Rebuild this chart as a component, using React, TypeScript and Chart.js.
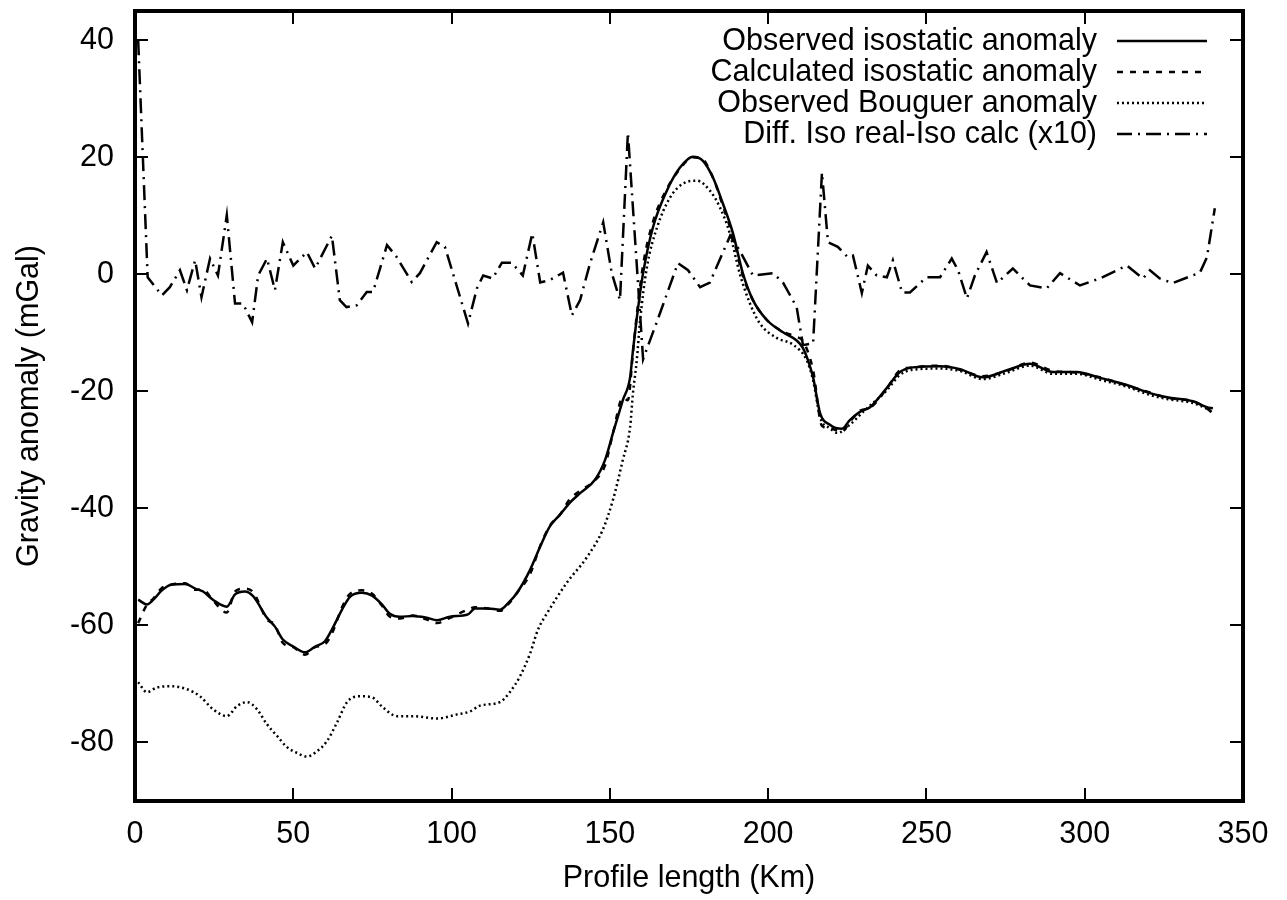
import { useEffect, useRef } from "react";
import { Chart, registerables } from "chart.js";

Chart.register(...registerables);

const FONT = '"Liberation Sans", Arial, Helvetica, sans-serif';
const FONT_SIZE = 30.5;

const xTickValues = [0, 50, 100, 150, 200, 250, 300, 350];
const yTickValues = [-80, -60, -40, -20, 0, 20, 40];

const seriesLabels = [
  "Observed isostatic anomaly",
  "Calculated isostatic anomaly",
  "Observed Bouguer anomaly",
  "Diff. Iso real-Iso calc (x10)",
];

const obsX = [1, 3.8, 5.8, 8.5, 11.7, 15.8, 19, 21.5, 24.6, 29, 31.6, 34.7, 37.3, 41.7, 44.2, 46.7, 50, 53.7, 56.9, 60, 62.2, 65.4, 67.9, 71.7, 74.9, 78, 80.5, 83.7, 87.8, 92.2, 95.4, 99.5, 105.2, 107.4, 111.5, 115.3, 118, 120.7, 124.8, 128, 131, 134.2, 137.4, 140.6, 145.3, 148.5, 151, 154.1, 156.4, 157.3, 158.5, 160.5, 163.6, 168, 172.1, 176.2, 179.4, 182.6, 185.7, 188.9, 192, 195.2, 199.6, 204.7, 209, 211, 212.6, 214.2, 216.4, 219.5, 223.3, 225.8, 229, 232.2, 237.5, 241.6, 245.7, 254.3, 260.6, 267.8, 275.4, 282.7, 290, 297.5, 304.8, 313.3, 320.6, 326, 334.2, 338.6, 340.5];
const obsY = [-55.6, -56.4, -55.6, -54.0, -53.0, -52.9, -53.7, -54.2, -55.6, -56.8, -54.7, -54.2, -55.0, -58.7, -60.2, -62.4, -63.6, -64.6, -63.6, -62.7, -60.7, -57.3, -55.1, -54.4, -54.9, -56.4, -58.0, -58.5, -58.4, -58.7, -59.1, -58.5, -58.1, -57.1, -57.1, -57.3, -56.1, -54.4, -50.5, -46.5, -43.1, -41.1, -39.0, -37.4, -35.1, -31.7, -27.1, -21.5, -17.6, -13.0, -7.5, 0.2, 8.0, 14.3, 18.2, 20.1, 19.4, 16.5, 12.1, 7.0, 0.2, -4.4, -7.8, -9.9, -11.3, -12.6, -14.7, -17.6, -23.7, -25.7, -26.4, -24.9, -23.5, -22.7, -19.4, -16.7, -15.9, -15.7, -16.2, -17.6, -16.4, -15.3, -16.7, -16.7, -17.7, -18.9, -20.3, -21.0, -21.7, -22.7, -22.9];

const calcX = [1, 3.8, 5.8, 8.5, 11.7, 15.8, 19, 21.5, 24.6, 29, 31.6, 34.7, 37.3, 41.7, 44.2, 46.7, 50, 53.7, 56.9, 60, 62.2, 65.4, 67.9, 71.7, 74.9, 78, 80.5, 83.7, 87.8, 92.2, 95.4, 99.5, 105.2, 107.4, 111.5, 115.3, 118, 120.7, 124.8, 128, 131, 134.2, 137.4, 140.6, 145.3, 148.5, 151, 154.1, 155.7, 157.3, 158.5, 160.5, 163.6, 168, 172.1, 176.2, 179.4, 182.6, 185.7, 188.9, 192, 195.2, 199.6, 204.7, 209, 211, 214.2, 217, 219.5, 223.3, 225.8, 229, 232.2, 237.5, 241.6, 245.7, 254.3, 260.6, 267.8, 275.4, 282.7, 290, 297.5, 304.8, 313.3, 320.6, 326, 334.2, 338.6, 341];
const calcY = [-59.6, -56.4, -55.4, -53.6, -53.0, -52.8, -53.9, -53.9, -55.7, -57.8, -54.2, -53.7, -54.3, -59.0, -59.9, -63.0, -63.7, -65.0, -63.7, -63.2, -61.4, -56.9, -54.6, -54.0, -54.6, -56.6, -58.5, -58.8, -58.3, -59.0, -59.6, -58.7, -57.3, -56.9, -57.1, -57.5, -56.3, -54.4, -51.2, -46.4, -43.0, -41.1, -38.4, -37.0, -35.2, -32.6, -27.1, -21.1, -21.5, -13.3, -7.0, 1.6, 8.9, 14.6, 18.0, 20.0, 19.6, 16.5, 11.7, 6.4, -0.2, -4.4, -7.8, -9.8, -10.7, -11.4, -16.4, -25.9, -26.3, -26.9, -25.2, -23.3, -22.8, -19.5, -16.4, -15.9, -15.6, -16.3, -17.4, -16.5, -15.1, -16.5, -16.8, -17.6, -19.0, -20.2, -21.1, -21.7, -22.9, -24.0];

const bouX = [1, 3.8, 6.9, 11.7, 16.4, 20.5, 24.6, 29, 32.2, 35.4, 38.5, 41.7, 44.9, 48, 51.2, 54.3, 57.5, 60.6, 63.8, 67, 71, 74.9, 78.3, 82.8, 87.8, 95.4, 101.7, 105.8, 109, 115.3, 118.4, 121.6, 124.8, 127.3, 130.3, 136.4, 142.8, 147.8, 151, 154.1, 156.4, 157.3, 158.5, 159.5, 161.7, 164.9, 169, 173.1, 177.5, 181.6, 184.8, 187.9, 191, 194.2, 197.4, 202.8, 207.8, 212.2, 214.2, 216.4, 219.5, 222, 225.8, 230, 237.5, 241.6, 245.7, 254.3, 260.6, 267.8, 275.4, 282.7, 290, 297.5, 304.8, 313.3, 320.6, 326, 334.2, 338.6, 340.5];
const bouY = [-69.7, -71.4, -70.6, -70.4, -70.9, -72.1, -74.3, -75.5, -73.8, -73.1, -74.3, -76.9, -78.9, -80.8, -81.8, -82.4, -81.5, -79.8, -76.6, -73.1, -72.1, -72.3, -74.0, -75.5, -75.5, -75.9, -75.2, -74.7, -73.7, -73.1, -71.4, -68.7, -64.8, -60.7, -57.8, -52.7, -48.3, -43.6, -38.5, -31.7, -26.1, -20.3, -14.7, -8.2, 1.2, 8.0, 13.1, 15.5, 16.0, 14.3, 11.4, 7.0, 0.2, -4.9, -8.4, -10.9, -12.0, -14.7, -18.1, -24.4, -26.3, -27.1, -25.7, -23.5, -19.8, -17.2, -16.3, -16.1, -16.5, -17.9, -16.8, -15.6, -17.0, -17.0, -18.0, -19.2, -20.6, -21.3, -22.0, -23.0, -23.7];

const diffX = [1, 4, 8.5, 11, 14.2, 16.4, 19, 21, 23.7, 26.2, 29, 31.6, 34.1, 37, 38.9, 41.7, 44.2, 46.7, 50, 54.3, 56.9, 62.2, 64.7, 66.8, 70, 73.2, 75.2, 79.6, 82.6, 87.4, 90, 95.3, 97.9, 105.2, 108, 110, 113, 115.9, 119, 122.5, 125.5, 128, 131, 135.2, 138, 140.6, 143.7, 147.9, 150.6, 153.2, 155.7, 160.5, 165.8, 171.5, 174.7, 178.5, 181.6, 188, 191, 195.2, 201.5, 204.7, 209, 211, 214.2, 217, 218.9, 222, 225.2, 226.8, 229.6, 231.5, 234.3, 237.5, 239.4, 242.3, 244.8, 250, 254.3, 258, 260, 262.8, 265.3, 269, 272.3, 277.3, 282.7, 288, 292.2, 298.5, 304.8, 313.3, 318.4, 320.6, 323.7, 327.8, 336.4, 338.6, 341.1];
const diffY = [40, -0.5, -3.6, -2.2, 0.7, -2.7, 2.4, -3.9, 2.7, -0.2, 10.1, -5.0, -5.0, -8.2, -0.2, 2.7, -2.7, 5.5, 1.5, 3.8, 1.0, 6.6, -4.4, -5.6, -5.3, -3.0, -3.0, 5.0, 3.0, -1.3, 0.2, 5.5, 4.7, -8.4, -2.4, -0.2, -0.7, 2.0, 2.0, -0.2, 7.0, -1.4, -1.0, 0.3, -7.0, -4.4, 1.8, 8.9, 0.2, -4.4, 24.2, -14.5, -6.7, 1.9, 0.7, -2.2, -1.4, 6.6, 4.1, -0.2, 0.2, -1.4, -5.6, -12.1, -11.8, 17.4, 5.5, 4.7, 2.9, 3.2, -3.2, 1.5, -0.2, -0.5, 2.4, -3.1, -3.1, -0.5, -0.5, 2.7, 0.7, -4.1, -0.2, 3.8, -1.5, 1.0, -1.9, -2.4, 0.2, -1.9, -0.7, 1.5, -0.7, 0.7, -0.7, -1.5, 0.3, 2.9, 11.3];

const dashPatterns: number[][] = [[], [6, 7], [2, 3], [15, 6, 2, 6]];
const smoothSeries = [true, true, true, false];

const zip = (xs: number[], ys: number[]) =>
  xs.slice(0, Math.min(xs.length, ys.length)).map((x, i) => ({ x, y: ys[i] }));

export default function App() {
  const ref = useRef<HTMLCanvasElement>(null);

  useEffect(() => {
    if (!ref.current) return;

    const framePlugin = {
      id: "gnuplotFrame",
      afterDraw(chart: any) {
        const { ctx, chartArea } = chart;
        const { left, right, top, bottom } = chartArea;
        const xs = chart.scales.x;
        const ys = chart.scales.y;
        ctx.save();
        ctx.strokeStyle = "#000";
        ctx.setLineDash([]);
        ctx.lineWidth = 2;
        const tl = 13;
        ctx.beginPath();
        for (const v of xTickValues) {
          const px = Math.round(xs.getPixelForValue(v));
          ctx.moveTo(px, bottom);
          ctx.lineTo(px, bottom - tl);
          ctx.moveTo(px, top);
          ctx.lineTo(px, top + tl);
        }
        for (const v of yTickValues) {
          const py = Math.round(ys.getPixelForValue(v));
          ctx.moveTo(left, py);
          ctx.lineTo(left + tl, py);
          ctx.moveTo(right, py);
          ctx.lineTo(right - tl, py);
        }
        ctx.stroke();
        ctx.lineWidth = 4;
        ctx.strokeRect(left, top, right - left, bottom - top);

        // gnuplot-style key: text right-aligned, line sample on the right
        ctx.font = `${FONT_SIZE}px ${FONT}`;
        ctx.fillStyle = "#000";
        ctx.textAlign = "right";
        ctx.textBaseline = "middle";
        const textRight = 1097;
        const sampleStart = 1117;
        const sampleEnd = 1207;
        seriesLabels.forEach((label, i) => {
          const y = 41 + i * 31;
          ctx.fillText(label, textRight, y + 1);
          ctx.beginPath();
          ctx.lineWidth = 2.5;
          ctx.setLineDash(dashPatterns[i]);
          ctx.moveTo(sampleStart, y);
          ctx.lineTo(sampleEnd, y);
          ctx.stroke();
        });
        ctx.restore();
      },
    };

    const font = { family: FONT, size: FONT_SIZE };
    const mk = (label: string, data: any[], i: number) => ({
      label,
      data,
      borderColor: "#000",
      backgroundColor: "#000",
      borderWidth: 2.5,
      borderDash: dashPatterns[i],
      pointRadius: 0,
      tension: 0,
      cubicInterpolationMode: smoothSeries[i] ? "monotone" : "default",
      fill: false,
    });

    const chart = new Chart(ref.current, {
      type: "line",
      data: {
        datasets: [
          mk(seriesLabels[0], zip(obsX, obsY), 0),
          mk(seriesLabels[1], zip(calcX, calcY), 1),
          mk(seriesLabels[2], zip(bouX, bouY), 2),
          mk(seriesLabels[3], zip(diffX, diffY), 3),
        ],
      },
      options: {
        responsive: false,
        animation: false,
        events: [],
        layout: { padding: { left: 0, right: 44, top: 11, bottom: 0 } },
        plugins: {
          legend: { display: false },
          tooltip: { enabled: false },
        },
        scales: {
          x: {
            type: "linear",
            min: 0,
            max: 350,
            grid: { display: false, drawTicks: false },
            border: { display: false },
            afterBuildTicks: (s: any) => {
              s.ticks = xTickValues.map((v) => ({ value: v }));
            },
            afterFit: (s: any) => {
              s.height = 99;
              s.paddingLeft = 0;
              s.paddingRight = 0;
            },
            ticks: {
              font,
              color: "#000",
              padding: 15,
              maxRotation: 0,
              autoSkip: false,
              callback: (v: any) => String(v),
            },
            title: {
              display: true,
              text: "Profile length (Km)",
              font,
              color: "#000",
              padding: { top: 0, bottom: 3 },
            },
          },
          y: {
            type: "linear",
            min: -90,
            max: 45,
            grid: { display: false, drawTicks: false },
            border: { display: false },
            afterBuildTicks: (s: any) => {
              s.ticks = yTickValues.map((v) => ({ value: v }));
            },
            afterFit: (s: any) => {
              s.width = 135;
              s.paddingTop = 0;
              s.paddingBottom = 0;
            },
            ticks: {
              font,
              color: "#000",
              padding: 21,
              autoSkip: false,
              callback: (v: any) => String(v),
            },
            title: {
              display: true,
              text: "Gravity anomaly (mGal)",
              font,
              color: "#000",
              padding: { top: 11, bottom: 0 },
            },
          },
        },
      } as any,
      plugins: [framePlugin],
    });

    return () => chart.destroy();
  }, []);

  return (
    <div style={{ position: "absolute", left: 0, top: 0, width: 1287, height: 900, background: "#fff" }}>
      <canvas ref={ref} width={1287} height={900} style={{ display: "block" }} />
    </div>
  );
}
